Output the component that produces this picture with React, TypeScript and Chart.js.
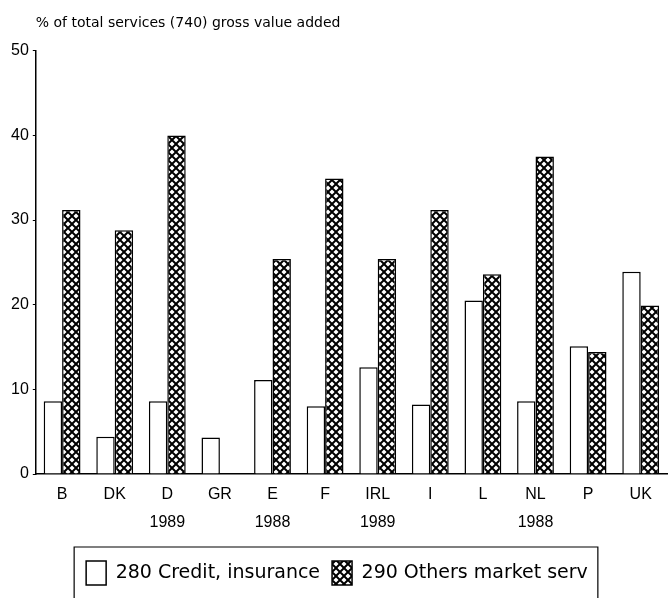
import React, { useEffect, useRef } from "react";
import { Chart, registerables } from "chart.js";

Chart.register(...registerables);

const categories: string[][] = [
  ["B"], ["DK"], ["D", "1989"], ["GR"], ["E", "1988"], ["F"],
  ["IRL", "1989"], ["I"], ["L"], ["NL", "1988"], ["P"], ["UK"],
];
const creditInsurance = [8.6, 4.4, 8.6, 4.3, 11.1, 8.0, 12.6, 8.2, 20.5, 8.6, 15.1, 23.9];
const otherMarketServ = [31.2, 28.8, 40.0, 0, 25.4, 34.9, 25.4, 31.2, 23.6, 37.5, 14.4, 19.9];
const seriesNames = ["280 Credit, insurance", "290 Others market serv"];
const yTicks = [0, 10, 20, 30, 40, 50];
const titleText = "% of total services (740) gross value added";

const FONT = "'Liberation Sans', Arial, sans-serif";
const WIDE = "'DejaVu Sans', 'Liberation Sans', sans-serif";

function makeCrossHatch(): CanvasPattern | string {
  const c = document.createElement("canvas");
  const s = 8;
  c.width = s;
  c.height = s;
  const g = c.getContext("2d");
  if (!g) return "#000";
  g.fillStyle = "#fff";
  g.fillRect(0, 0, s, s);
  g.strokeStyle = "#000";
  g.lineWidth = 2;
  g.beginPath();
  g.moveTo(-1, -1);
  g.lineTo(s + 1, s + 1);
  g.moveTo(s + 1, -1);
  g.lineTo(-1, s + 1);
  g.stroke();
  const p = g.createPattern(c, "repeat");
  return p || "#000";
}

const legendBorder = {
  id: "legendBorder",
  afterDraw(chart: any) {
    const lg = chart.legend;
    if (!lg || !lg.legendHitBoxes || !lg.legendHitBoxes.length) return;
    const boxes = lg.legendHitBoxes;
    let l = Infinity, r = -Infinity, t = Infinity;
    for (const b of boxes) {
      l = Math.min(l, b.left);
      r = Math.max(r, b.left + b.width);
      t = Math.min(t, b.top);
    }
    const ctx = chart.ctx;
    ctx.save();
    ctx.strokeStyle = "#000";
    ctx.lineWidth = 1.2;
    ctx.beginPath();
    ctx.moveTo(l - 12, chart.height + 2);
    ctx.lineTo(l - 12, t - 14);
    ctx.lineTo(r + 10, t - 14);
    ctx.lineTo(r + 10, chart.height + 2);
    ctx.stroke();
    ctx.restore();
  },
};

export default function App() {
  const ref = useRef<HTMLCanvasElement | null>(null);

  useEffect(() => {
    document.body.style.margin = "0";
    const canvas = ref.current;
    if (!canvas) return;
    const hatch = makeCrossHatch();
    const chart = new Chart(canvas, {
      type: "bar",
      data: {
        labels: categories,
        datasets: [
          {
            label: seriesNames[0],
            data: creditInsurance,
            backgroundColor: "#fff",
            borderColor: "#000",
            borderWidth: 1.5,
          },
          {
            label: seriesNames[1],
            data: otherMarketServ,
            backgroundColor: hatch as any,
            borderColor: "#000",
            borderWidth: 1.5,
          },
        ],
      },
      options: {
        animation: false,
        responsive: false,
        maintainAspectRatio: false,
        layout: { padding: { left: 7, right: 1, top: 0, bottom: 3 } },
        datasets: { bar: { categoryPercentage: 0.7, barPercentage: 1.0 } },
        plugins: {
          title: {
            display: true,
            text: titleText,
            align: "start",
            fullSize: false,
            color: "#000",
            font: { family: WIDE, size: 14, weight: "normal" },
            padding: { top: 15, bottom: 19 },
          },
          legend: {
            display: true,
            position: "bottom",
            labels: {
              color: "#000",
              font: { family: WIDE, size: 19 },
              boxWidth: 20,
              boxHeight: 24,
              padding: 12,
              useBorderRadius: false,
            },
          },
          tooltip: { enabled: false },
        },
        scales: {
          x: {
            afterFit: (s: any) => {
              s.height += 5;
            },
            grid: { display: true, drawOnChartArea: false, drawTicks: false },
            border: { display: true, color: "#000", width: 1.5 },
            ticks: {
              color: "#000",
              font: { family: FONT, size: 16, lineHeight: 1.75 },
              padding: 7,
              maxRotation: 0,
              autoSkip: false,
            },
          },
          y: {
            min: 0,
            max: 50,
            afterBuildTicks: (axis: any) => {
              axis.ticks = yTicks.map((v) => ({ value: v }));
            },
            grid: { display: true, drawOnChartArea: false, drawTicks: true, tickLength: 3, color: "#000" },
            border: { display: true, color: "#000", width: 1.5 },
            ticks: {
              color: "#000",
              font: { family: FONT, size: 16 },
              padding: 4,
            },
          },
        },
      },
      plugins: [legendBorder],
    });
    return () => chart.destroy();
  }, []);

  return (
    <div style={{ width: 668, height: 598, overflow: "hidden", background: "#fff" }}>
      <canvas ref={ref} width={668} height={598} style={{ display: "block" }} />
    </div>
  );
}
